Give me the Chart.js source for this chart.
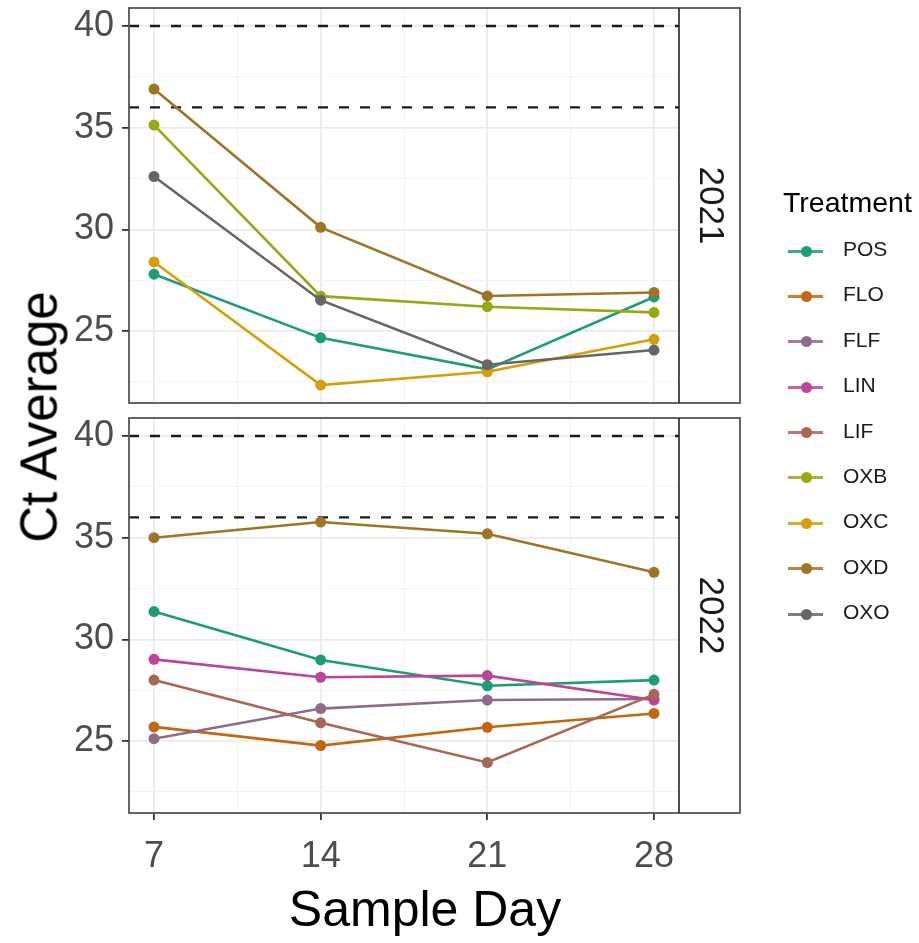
<!DOCTYPE html>
<html>
<head>
<meta charset="utf-8">
<script src="https://cdn.jsdelivr.net/npm/chart.js@4.4.1/dist/chart.umd.min.js"></script>
<style>
  body { margin: 0; background: #fff; font-family: "Liberation Sans", Arial, sans-serif; }
  #wrap { position: relative; width: 919px; height: 943px; overflow: hidden; }
  canvas { position: absolute; left: 0; }
  #c2021 { top: 0; }
  #c2022 { top: 410px; }
  #ylab { position: absolute; left: 39px; top: 417px; transform: translate(-50%, -50%) rotate(-90deg);
          font-size: 51px; line-height: 1; color: #000; white-space: nowrap; }
  #xlab { position: absolute; left: 425px; top: 909px; transform: translate(-50%, -50%);
          font-size: 50px; line-height: 1; color: #000; white-space: nowrap; }
  #legend { position: absolute; left: 783px; top: 186px; }
  .ltitle { font-size: 28.5px; color: #000; height: 32px; line-height: 32px; margin-bottom: 29px; }
  .lrow { position: relative; height: 45.4px; }
  .lline { position: absolute; left: 5px; top: 2.5px; width: 35px; height: 3px; opacity: 0.85; }
  .ldot { position: absolute; left: 17.5px; top: -1.5px; width: 11px; height: 11px; border-radius: 50%; }
  .ltxt { position: absolute; left: 60px; top: -10px; font-size: 21px; line-height: 24px; color: #1a1a1a; }
</style>
</head>
<body>
<div id="wrap">
  <canvas id="c2021" width="919" height="412"></canvas>
  <canvas id="c2022" width="919" height="533"></canvas>
  <div id="ylab">Ct Average</div>
  <div id="xlab">Sample Day</div>
  <div id="legend"></div>
</div>
<script>
// sample days on the x axis
var sampleDays = [7, 14, 21, 28];
var xTicks = [7, 10.5, 14, 17.5, 21, 24.5, 28];
var yTicks = [22.5, 25, 27.5, 30, 32.5, 35, 37.5, 40];
var refLines = [36, 40];

var treatments = ['POS', 'FLO', 'FLF', 'LIN', 'LIF', 'OXB', 'OXC', 'OXD', 'OXO'];
var colors = ['#1B9E77', '#C16711', '#8E6C87', '#BC4499', '#A66754', '#96A813', '#D69E09', '#9E7426', '#666666'];

// 2021 panel
var POS_2021 = [27.8, 24.67, 23.12, 26.68];
var OXB_2021 = [35.13, 26.72, 26.2, 25.92];
var OXC_2021 = [28.4, 22.35, 23.0, 24.6];
var OXD_2021 = [36.9, 30.1, 26.73, 26.9];
var OXO_2021 = [32.6, 26.52, 23.35, 24.07];

// 2022 panel
var POS_2022 = [31.37, 28.99, 27.72, 28.0];
var FLO_2022 = [25.7, 24.78, 25.68, 26.36];
var FLF_2022 = [25.12, 26.6, 27.02, 27.07];
var LIN_2022 = [29.02, 28.14, 28.22, 27.02];
var LIF_2022 = [28.0, 25.9, 23.95, 27.3];
var OXD_2022 = [35.0, 35.77, 35.19, 33.3];

var panel2021 = {POS: POS_2021, OXB: OXB_2021, OXC: OXC_2021, OXD: OXD_2021, OXO: OXO_2021};
var panel2022 = {POS: POS_2022, FLO: FLO_2022, FLF: FLF_2022, LIN: LIN_2022, LIF: LIF_2022, OXD: OXD_2022};

var FONT = '"Liberation Sans", Arial, sans-serif';
var stripWidth = 61;

// shared (fixed) scales like facet_grid, with 5% expansion
var allY = [].concat(POS_2021, OXB_2021, OXC_2021, OXD_2021, OXO_2021,
  POS_2022, FLO_2022, FLF_2022, LIN_2022, LIF_2022, OXD_2022, refLines);
var yLo = Math.min.apply(null, allY), yHi = Math.max.apply(null, allY);
var yPad = (yHi - yLo) * 0.05;
var xLo = sampleDays[0], xHi = sampleDays[sampleDays.length - 1];
var xPad = (xHi - xLo) * 0.05;

function isMajor(v) { return Math.abs(v % 5) < 1e-6; }
function isMajorX(v) { return sampleDays.indexOf(v) >= 0; }

var facetFrame = {
  id: 'facetFrame',
  beforeDatasetsDraw: function(chart, args, opts) {
    var ctx = chart.ctx, a = chart.chartArea, y = chart.scales.y;
    ctx.save();
    ctx.strokeStyle = '#1a1a1a';
    ctx.lineWidth = 2.4;
    ctx.setLineDash([10, 11]);
    refLines.forEach(function(v) {
      var py = y.getPixelForValue(v);
      ctx.beginPath(); ctx.moveTo(a.left, py); ctx.lineTo(a.right, py); ctx.stroke();
    });
    ctx.restore();
  },
  afterDraw: function(chart, args, opts) {
    var ctx = chart.ctx, a = chart.chartArea;
    ctx.save();
    ctx.strokeStyle = '#555';
    ctx.lineWidth = 1.8;
    ctx.strokeRect(a.left, a.top, a.right - a.left + stripWidth, a.bottom - a.top);
    ctx.strokeStyle = '#222';
    ctx.lineWidth = 1.6;
    ctx.beginPath(); ctx.moveTo(a.right, a.top); ctx.lineTo(a.right, a.bottom); ctx.stroke();
    ctx.translate(a.right + stripWidth / 2, (a.top + a.bottom) / 2);
    ctx.rotate(Math.PI / 2);
    ctx.font = '35px ' + FONT;
    ctx.fillStyle = '#1a1a1a';
    ctx.textAlign = 'center';
    ctx.textBaseline = 'middle';
    ctx.fillText(opts.label, 0, 0);
    ctx.restore();
  }
};

function makeDatasets(panel) {
  var ds = [];
  treatments.forEach(function(t, i) {
    if (!panel[t]) return;
    ds.push({
      label: t,
      data: sampleDays.map(function(d, j) { return {x: d, y: panel[t][j]}; }),
      borderColor: colors[i],
      backgroundColor: colors[i],
      borderWidth: 2.6,
      pointRadius: 5.5,
      pointBorderWidth: 0,
      pointHoverRadius: 5.5,
      order: treatments.length - i
    });
  });
  return ds;
}

function makeChart(id, panel, label, showX) {
  var ctx = document.getElementById(id).getContext('2d');
  return new Chart(ctx, {
    type: 'line',
    data: { datasets: makeDatasets(panel) },
    plugins: [facetFrame],
    options: {
      responsive: false,
      animation: false,
      layout: { padding: { left: 0, right: 919 - 679, top: 8, bottom: showX ? 0 : 9 } },
      plugins: {
        legend: { display: false },
        tooltip: { enabled: false },
        facetFrame: { label: label }
      },
      scales: {
        x: {
          type: 'linear',
          min: xLo - xPad,
          max: xHi + xPad,
          afterBuildTicks: function(s) { s.ticks = xTicks.map(function(v) { return {value: v}; }); },
          afterFit: function(s) { s.height = showX ? 130 : 0; s.paddingLeft = 0; s.paddingRight = 0; },
          border: { display: false },
          grid: {
            color: function(c) { return isMajorX(c.tick.value) ? '#EBEBEB' : '#F3F3F3'; },
            lineWidth: function(c) { return isMajorX(c.tick.value) ? 1.8 : 1; },
            drawTicks: showX,
            tickLength: 7,
            tickColor: function(c) { return isMajorX(c.tick.value) ? '#333' : 'rgba(0,0,0,0)'; }
          },
          ticks: {
            display: showX,
            autoSkip: false,
            maxRotation: 0,
            padding: 15,
            color: '#4D4D4D',
            font: { family: FONT, size: 36 },
            callback: function(v) { return isMajorX(v) ? String(v) : ''; }
          }
        },
        y: {
          min: yLo - yPad,
          max: yHi + yPad,
          afterBuildTicks: function(s) { s.ticks = yTicks.map(function(v) { return {value: v}; }); },
          afterFit: function(s) { s.width = 129; s.paddingTop = 0; s.paddingBottom = 0; },
          border: { display: false },
          grid: {
            color: function(c) { return isMajor(c.tick.value) ? '#EBEBEB' : '#F3F3F3'; },
            lineWidth: function(c) { return isMajor(c.tick.value) ? 1.8 : 1; },
            tickLength: 7,
            tickColor: function(c) { return isMajor(c.tick.value) ? '#333' : 'rgba(0,0,0,0)'; }
          },
          ticks: {
            autoSkip: false,
            padding: 8,
            color: '#4D4D4D',
            font: { family: FONT, size: 36 },
            callback: function(v) { return isMajor(v) ? String(v) : ''; }
          }
        }
      }
    }
  });
}

makeChart('c2021', panel2021, '2021', false);
makeChart('c2022', panel2022, '2022', true);

// shared legend for both panels
var legend = document.getElementById('legend');
var html = '<div class="ltitle">Treatment</div>';
treatments.forEach(function(t, i) {
  html += '<div class="lrow"><div class="lline" style="background:' + colors[i] + '"></div>' +
    '<div class="ldot" style="background:' + colors[i] + '"></div>' +
    '<div class="ltxt">' + t + '</div></div>';
});
legend.innerHTML = html;
</script>
</body>
</html>
